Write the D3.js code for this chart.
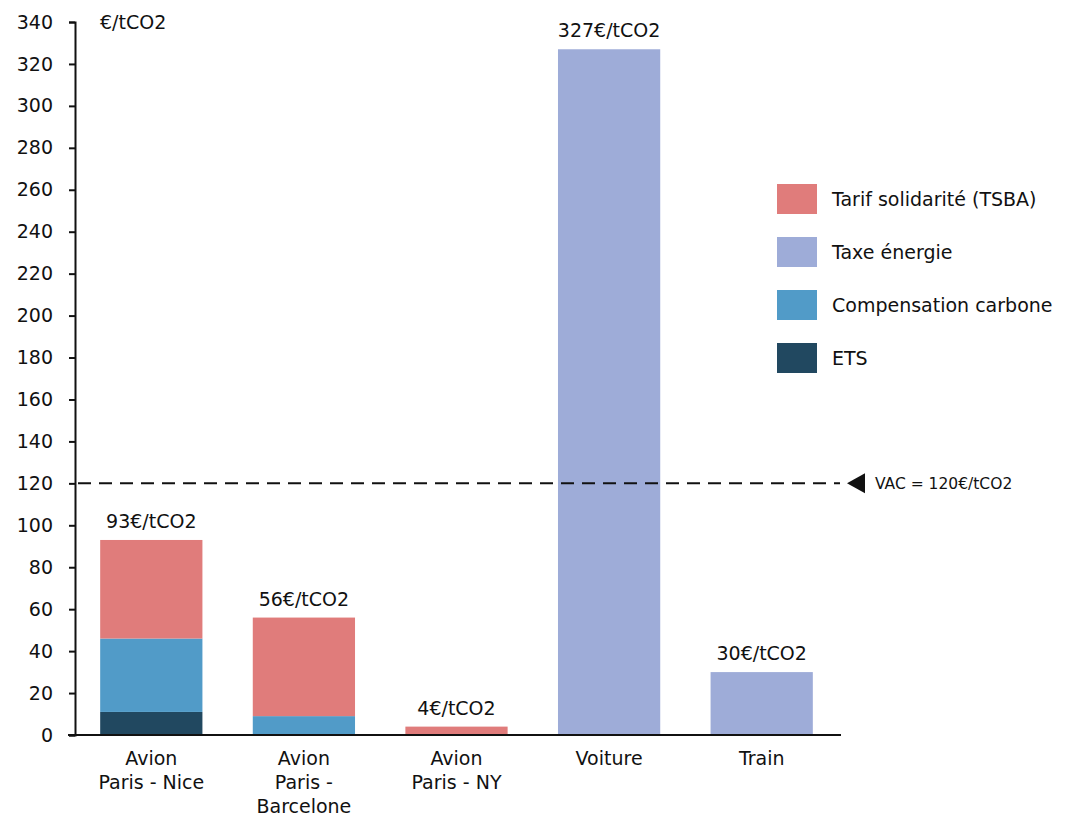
<!DOCTYPE html>
<html>
<head>
<meta charset="utf-8">
<script src="https://cdn.jsdelivr.net/npm/d3@7"></script>
<style>
  body { margin: 0; background: #fff; }
  svg text { font-family: "DejaVu Sans", sans-serif; fill: #111; }
</style>
</head>
<body>
<svg id="chart" width="1079" height="817"></svg>
<script>
// Categories (multi-line labels)
const categories = ["Avion|Paris - Nice", "Avion|Paris -|Barcelone", "Avion|Paris - NY", "Voiture", "Train"];
// Series values, €/tCO2
const ets          = [11, 0, 0, 0, 0];
const compensation = [35, 9, 0, 0, 0];
const tsba         = [47, 47, 4, 0, 0];
const taxeEnergie  = [0, 0, 0, 327, 30];
const totalLabels  = ["93€/tCO2", "56€/tCO2", "4€/tCO2", "327€/tCO2", "30€/tCO2"];
const yTicks = d3.range(0, 341, 20);
const vac = 120;

const seriesNames = ["ETS", "Compensation carbone", "Tarif solidarité (TSBA)", "Taxe énergie"];
const colors = {
  "ETS": "#214860",
  "Compensation carbone": "#519bc8",
  "Tarif solidarité (TSBA)": "#e07c7b",
  "Taxe énergie": "#9eacd8"
};
const legendOrder = ["Tarif solidarité (TSBA)", "Taxe énergie", "Compensation carbone", "ETS"];

const rows = categories.map((c, i) => ({
  cat: c,
  "ETS": ets[i],
  "Compensation carbone": compensation[i],
  "Tarif solidarité (TSBA)": tsba[i],
  "Taxe énergie": taxeEnergie[i],
  label: totalLabels[i]
}));

const FONT = "'DejaVu Sans', sans-serif";
const svg = d3.select("#chart");
const margin = { left: 75, right: 241, top: 22, bottom: 82 };
const W = 1079, H = 817;

const x = d3.scaleBand().domain(categories).range([margin.left, W - margin.right]).paddingInner(0.33).paddingOuter(0.165);
const y = d3.scaleLinear().domain([0, 340]).range([H - margin.bottom, margin.top]);

const stack = d3.stack().keys(seriesNames)(rows);

svg.append("g").selectAll("g").data(stack).join("g")
  .attr("fill", d => colors[d.key])
  .selectAll("rect").data(d => d.filter(p => p[1] - p[0] > 0)).join("rect")
  .attr("x", d => x(d.data.cat))
  .attr("width", x.bandwidth())
  .attr("y", d => y(d[1]))
  .attr("height", d => y(d[0]) - y(d[1]));

// Total labels above bars
svg.append("g").selectAll("text").data(rows).join("text")
  .attr("x", d => x(d.cat) + x.bandwidth() / 2)
  .attr("y", d => y(d["ETS"] + d["Compensation carbone"] + d["Tarif solidarité (TSBA)"] + d["Taxe énergie"]) - 12)
  .attr("text-anchor", "middle")
  .attr("font-size", 19)
  .text(d => d.label);

// Y axis
const yAxis = svg.append("g")
  .attr("transform", `translate(${margin.left},0)`)
  .call(d3.axisLeft(y).tickValues(yTicks).tickSize(6).tickPadding(16));
yAxis.select(".domain").attr("stroke", "#111").attr("stroke-width", 2);
yAxis.selectAll(".tick line").attr("stroke", "#111").attr("stroke-width", 2);
yAxis.selectAll(".tick text").attr("font-size", 19).attr("font-family", FONT).attr("fill", "#111");

// X axis baseline
svg.append("line")
  .attr("x1", margin.left - 7).attr("x2", W - margin.right + 3)
  .attr("y1", y(0)).attr("y2", y(0))
  .attr("stroke", "#111").attr("stroke-width", 2);

// Category labels
const catG = svg.append("g").selectAll("text").data(categories).join("text")
  .attr("text-anchor", "middle")
  .attr("font-size", 19)
  .attr("x", d => x(d) + x.bandwidth() / 2)
  .attr("y", y(0) + 30);
catG.selectAll("tspan").data(d => d.split("|")).join("tspan")
  .attr("x", function () { return d3.select(this.parentNode).attr("x"); })
  .attr("dy", (d, i) => i === 0 ? 0 : 24)
  .text(d => d);

// Unit label
svg.append("text").attr("x", 100).attr("y", y(340) + 7).attr("font-size", 19).text("€/tCO2");

// VAC reference line
svg.append("line")
  .attr("x1", margin.left + 3).attr("x2", W - margin.right + 2)
  .attr("y1", y(vac)).attr("y2", y(vac))
  .attr("stroke", "#111").attr("stroke-width", 2).attr("stroke-dasharray", "13,8");
const tx = W - margin.right + 9;
svg.append("path")
  .attr("d", `M${tx},${y(vac)} L${tx + 18},${y(vac) - 10} L${tx + 18},${y(vac) + 10} Z`)
  .attr("fill", "#111");
svg.append("text").attr("x", tx + 28).attr("y", y(vac) + 6).attr("font-size", 15.5).text(`VAC = ${vac}€/tCO2`);

// Legend
const lg = svg.append("g").attr("transform", "translate(777,184)");
const li = lg.selectAll("g").data(legendOrder).join("g").attr("transform", (d, i) => `translate(0,${i * 53})`);
li.append("rect").attr("width", 40).attr("height", 30).attr("fill", d => colors[d]);
li.append("text").attr("x", 55).attr("y", 22).attr("font-size", 19).text(d => d);
</script>
</body>
</html>
